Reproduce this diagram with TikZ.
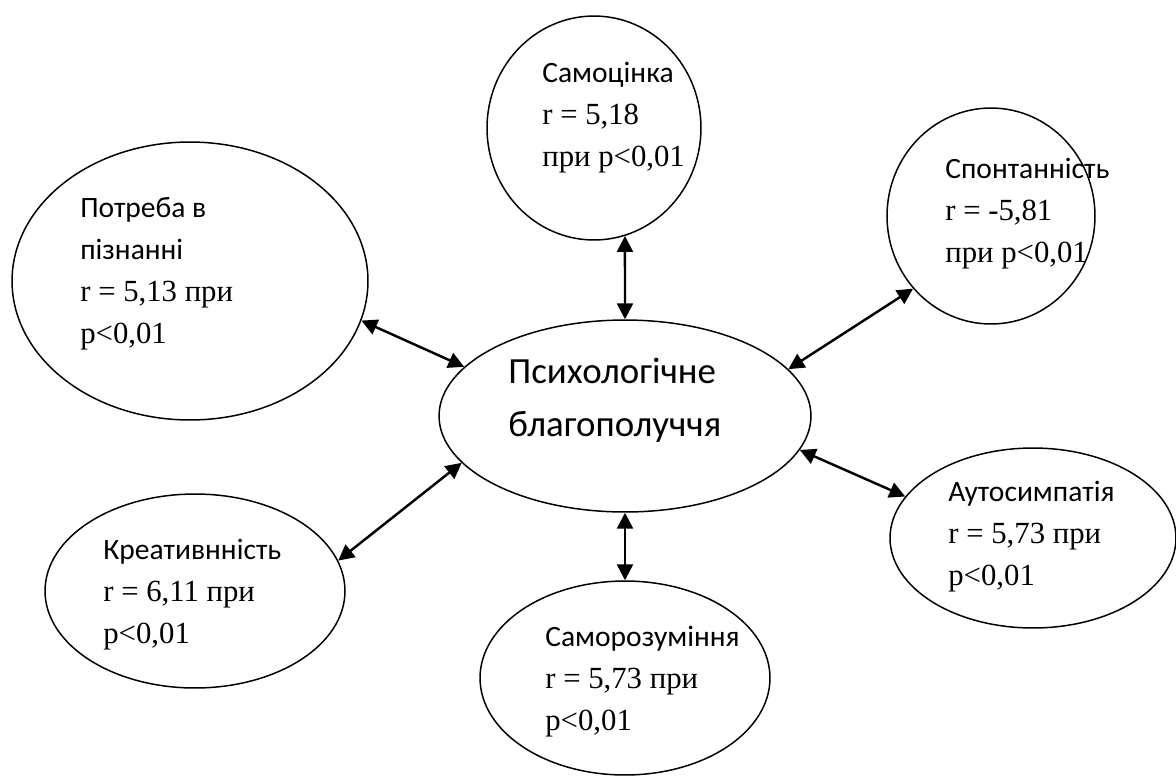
\documentclass[tikz,border=0pt]{standalone}
\usepackage{fontspec}
\setmainfont{Liberation Serif}
\newfontfamily\calfont{Carlito}
\usetikzlibrary{shapes.geometric,arrows.meta}

\newcommand{\lbl}[1]{{\calfont\fontsize{16.8}{23.8}\selectfont #1}}

\begin{document}
\begin{tikzpicture}[x=0.02cm, y=-0.02cm,
    bubble/.style={ellipse, draw, line width=0.85pt, inner sep=0pt},
    txt/.style={anchor=base west, align=left, inner sep=0pt,
      font=\fontsize{17.5}{23.8}\selectfont},
    link/.style={{Triangle[length=9pt,width=9pt]}-{Triangle[length=9pt,width=9pt]}, line width=1.4pt}]
  \useasboundingbox (0,0) rectangle (1176,778);

  % ellipses
  \node [bubble, minimum width=7.44cm, minimum height=3.84cm] (psy) at (625,416) {};
  \node [bubble, minimum width=4.28cm, minimum height=4.48cm] (samo) at (594,128) {};
  \node [bubble, minimum width=4.16cm, minimum height=4.32cm] (spon) at (991,216) {};
  \node [bubble, minimum width=7.12cm, minimum height=5.56cm] (potr) at (190,281) {};
  \node [bubble, minimum width=6.00cm, minimum height=3.88cm] (kreat) at (195,591) {};
  \node [bubble, minimum width=5.72cm, minimum height=3.60cm] (auto) at (1033,538) {};
  \node [bubble, minimum width=5.80cm, minimum height=3.88cm] (rozum) at (625,678) {};

  % texts (anchored at the last line)
  \node [txt, font=\calfont\fontsize{21}{30}\selectfont] (psytxt) at (508,436)
    {Психологічне\\благополуччя};
  \node [txt] (samotxt) at (542,166) {\lbl{Самоцінка}\\r = 5,18\\при p<0,01};
  \node [txt] (spontxt) at (945,262) {\lbl{Спонтанність}\\r = -5,81\\при p<0,01};
  \node [txt] (potrtxt) at (80,343) {\lbl{Потреба в}\\\lbl{пізнанні}\\r = 5,13 при\\p<0,01};
  \node [txt] (kreattxt) at (103,643) {\lbl{Креативнність}\\r = 6,11 при\\p<0,01};
  \node [txt] (autotxt) at (948,585) {\lbl{Аутосимпатія}\\r = 5,73 при\\p<0,01};
  \node [txt] (rozumtxt) at (545,730) {\lbl{Саморозуміння}\\r = 5,73 при\\p<0,01};

  \path [link]
    (samo.-74) edge (psy.90)
    (potr.-13) edge (psy.163)
    (spon.223) edge (psy.16)
    (auto.162) edge (psy.-11)
    (kreat.12) edge (psy.196)
    (rozum.90) edge (psy.-90)
    ;
\end{tikzpicture}
\end{document}
